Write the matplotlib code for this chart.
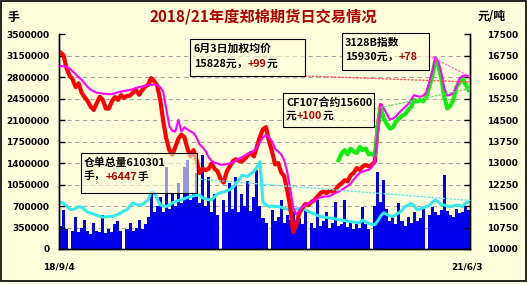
import numpy as np
import matplotlib.pyplot as plt
from matplotlib.patches import Rectangle, ConnectionPatch

nan = np.nan

title = '2018/21年度郑棉期货日交易情况'
start_label = '18/9/4'
end_label = '21/6/3'

# daily volume (hands), left axis
volume = [
    380000, 640000, 330000, 0, 300000, 520000, 280000, 350000, 470000, 300000,
    250000, 420000, 300000, 280000, 550000, 260000, 330000, 280000, 400000, 450000,
    300000, 0, 320000, 420000, 300000, 350000, 480000, 330000, 400000, 520000,
    910000, 600000, 700000, 850000, 600000, 1330000, 650000, 910000, 700000, 1070000,
    750000, 1330000, 1450000, 800000, 900000, 1240000, 750000, 1530000, 700000, 1170000,
    600000, 900000, 550000, 0, 800000, 600000, 1070000, 650000, 1170000, 600000,
    900000, 700000, 1100000, 620000, 850000, 1290000, 700000, 500000, 420000, 0,
    630000, 450000, 520000, 800000, 430000, 560000, 480000, 650000, 430000, 500000,
    400000, 630000, 0, 420000, 350000, 800000, 380000, 450000, 600000, 340000,
    420000, 760000, 380000, 400000, 800000, 360000, 450000, 320000, 400000, 350000,
    690000, 400000, 330000, 0, 700000, 1260000, 760000, 1120000, 650000, 450000,
    520000, 400000, 750000, 450000, 380000, 520000, 420000, 600000, 460000, 500000,
    650000, 0, 560000, 690000, 600000, 560000, 640000, 1200000, 620000, 560000,
    520000, 650000, 580000, 600000, 700000, 640000,
]

# open interest (hands), left axis
open_interest = [
    760000, 745000, 700000, 650000, 640000, 660000, 690000, 680000, 640000, 600000,
    585000, 570000, 550000, 530000, 520000, 525000, 530000, 530000, 545000, 560000,
    590000, 620000, 640000, 700000, 750000, 730000, 715000, 720000, 760000, 800000,
    930000, 915000, 820000, 720000, 700000, 690000, 720000, 750000, 770000, 790000,
    800000, 820000, 840000, 850000, 865000, 875000, 880000, 830000, 820000, 800000,
    800000, 850000, 900000, 915000, 930000, 950000, 965000, 1000000, 1060000, 1120000,
    1200000, 1190000, 1180000, 1230000, 1260000, 1330000, 1420000, 760000, 720000, 690000,
    700000, 690000, 690000, 680000, 660000, 650000, 640000, 635000, 650000, 660000,
    665000, 640000, 610000, 590000, 570000, 545000, 530000, 520000, 515000, 505000,
    500000, 490000, 480000, 470000, 465000, 455000, 445000, 440000, 430000, 425000,
    470000, 440000, 420000, 400000, 395000, 460000, 540000, 590000, 560000, 540000,
    530000, 560000, 590000, 630000, 690000, 710000, 745000, 700000, 640000, 650000,
    670000, 690000, 710000, 760000, 800000, 770000, 720000, 715000, 700000, 690000,
    700000, 715000, 710000, 690000, 740000, 770000,
]

# futures price (yuan/t), right axis
price_red = [
    16850, 16760, 16300, 16050, 15920, 15650, 15780, 15450, 15290, 15160,
    14960, 14850, 15090, 15310, 15200, 14900, 14900, 15150, 15300, 15200,
    15370, 15270, 15340, 15350, 15460, 15540, 15380, 15540, 15660, 15730,
    15960, 15860, 15700, 15200, 14450, 13850, 13450, 13280, 13570, 13850,
    13990, 13900, 13500, 13230, 13450, 13100, 12650, 12800, 12750, 12800,
    12980, 12800, 12700, 12430, 12320, 12700, 12880, 13060, 13130, 13080,
    13050, 13150, 13270, 13350, 13230, 13570, 13920, 14180, 14250, 13750,
    13400, 12950, 13000, 12680, 12540, 12060, 11480, 10600, 10850, 11250,
    11420, 11570, 11530, 11640, 11700, 11830, 11950, 12000, 11950, 12030,
    12000, 12070, 12210, 12290, 12400, 12360, 12570, 12650, 12820, 12760,
    12880, 12930, 12880, 12930, 13050, 14300, 15000,
] + [nan] * 29

price_green = [nan] * 92 + [
    13100, 13330, 13450, 13300, 13500, 13400, 13350, 13560, 13450, 13500,
    13300, 13330, 13250, 14300, 14900, 14550, 14350, 14200, 14250, 14450,
    14550, 14650, 14700, 14850, 14950, 15200, 15150, 15200, 15150, 15300,
    15650, 16050, 16550, 16400, 15950, 15300, 14900, 15000, 15200, 15650,
    15800, 15950, 15750, 15550,
]

# 3128B index (yuan/t), right axis
index_3128b = [
    16380, 16370, 16360, 16300, 16200, 16100, 15990, 15900, 15780, 15650,
    15560, 15500, 15450, 15440, 15420, 15410, 15400, 15400, 15430, 15470,
    15490, 15510, 15530, 15550, 15580, 15620, 15650, 15670, 15700, 15720,
    15730, 15730, 15720, 15640, 15480, 14900, 14300, 14120, 14100, 14500,
    14100, 14250, 14170, 14100, 14050, 13900, 13650, 13550, 13420, 13200,
    13080, 13010, 12980, 12940, 12940, 12960, 12990, 13030, 13080, 13150,
    13200, 13260, 13330, 13380, 13430, 13550, 13720, 13900, 13970, 13900,
    13750, 13500, 13400, 13300, 13100, 12700, 12100, 11450, 11200, 11330,
    11470, 11530, 11590, 11640, 11700, 11750, 11800, 11830, 11830, 11840,
    11900, 11950, 12000, 12060, 12130, 12200, 12280, 12420, 12550, 12650,
    12700, 12740, 12760, 12850, 13100, 14100, 15050, 14900, 14700, 14520,
    14550, 14620, 14750, 14850, 14950, 15050, 15200, 15370, 15330, 15310,
    15350, 15450, 15800, 16200, 16680, 16550, 16150, 15600, 15350, 15380,
    15450, 15650, 15950, 16030, 16060, 16020,
]

vol_ticks = list(range(0, 3500001, 350000))
price_ticks = list(range(10000, 17501, 750))

avg_price = 15828
cf107_price = 15600
receipt_mark = 790000

W, H = 527, 284
BG = '#FFFFDC'
CJK = ['Noto Sans CJK SC', 'DejaVu Sans']


def px(x, y):
    return x / W, 1 - y / H


fig = plt.figure(figsize=(W / 100, H / 100), dpi=100, facecolor=BG)
ax1 = fig.add_axes([59 / W, 1 - 249 / H, (470 - 59) / W, (249 - 34) / H])
ax1.set_facecolor(BG)

x = np.arange(len(volume))
ax1.bar(x, volume, width=1.0, color='#0000EE', linewidth=0, zorder=1)
ax1.plot(x, open_interest, color='#33E8EE', lw=2.2, zorder=2)
ax1.set_xlim(-0.5, len(x) - 0.5)
ax1.set_ylim(0, 3500000)
for v in vol_ticks[1:-1]:
    ax1.axhline(v, color='#A8A8A8', lw=0.8, ls=(0, (4, 3)), zorder=0.5)

ax2 = ax1.twinx()
ax2.plot(x, price_red, color='#FF0000', lw=3.0, zorder=2)
ax2.plot(x, price_green, color='#10EE10', lw=3.0, zorder=3)
ax2.plot(x, index_3128b, color='#FF00FF', lw=1.5, zorder=4)
ax2.set_ylim(10000, 17500)

ax1.set_xticks([])
ax1.set_yticks(vol_ticks)
ax1.set_yticklabels([str(v) for v in vol_ticks])
ax2.set_yticks(price_ticks)
ax2.set_yticklabels([str(v) for v in price_ticks])
ax1.tick_params(axis='y', direction='in', length=4, width=1, pad=7, labelsize=6.5)
ax2.tick_params(axis='y', direction='in', length=4, width=1, pad=12, labelsize=6.5)
for lbl in ax1.get_yticklabels() + ax2.get_yticklabels():
    lbl.set_fontweight('bold')
for a in (ax1, ax2):
    a.spines['top'].set_visible(False)
    for s in ('left', 'right', 'bottom'):
        a.spines[s].set_linewidth(1)

# header texts
fig.text(*px(263, 17), title, color='#B00000', fontsize=11, fontweight='bold',
         family=CJK, ha='center', va='center')
fig.text(*px(13, 17), '手', fontsize=8.5, fontweight='bold', family=CJK,
         ha='center', va='center')
fig.text(*px(492, 17), '元/吨', fontsize=8.5, fontweight='bold', family=CJK,
         ha='center', va='center')
fig.text(*px(59, 267), start_label, fontsize=6.5, fontweight='bold', ha='center', va='center')
fig.text(*px(467, 267), end_label, fontsize=6.5, fontweight='bold', ha='center', va='center')

# outer frame
fig.add_artist(Rectangle(px(1, 281), 525 / W, 280 / H, transform=fig.transFigure,
                         fill=False, edgecolor='black', lw=1.2, zorder=10))


def box(x0, y0, x1, y1):
    fig.add_artist(Rectangle(px(x0, y1), (x1 - x0) / W, (y1 - y0) / H,
                             transform=fig.transFigure, facecolor=(1, 1, 0.86, 0.6),
                             edgecolor='black', lw=0.8, zorder=5))


def rich_text(x0, y0, parts, size=7.8):
    r = fig.canvas.get_renderer()
    fx, fy = px(x0, y0)
    for s, c in parts:
        t = fig.text(fx, fy, s, color=c, fontsize=size, fontweight='bold',
                     family=CJK, ha='left', va='center', zorder=6)
        bb = t.get_window_extent(renderer=r)
        fx = bb.x1 / fig.bbox.width


def leader(xa, ya, yb, axis, color):
    cp = ConnectionPatch(xyA=px(xa, ya), coordsA=fig.transFigure,
                         xyB=(len(x) - 0.5, yb), coordsB=axis.transData,
                         color=color, lw=1.0, ls=':', zorder=4.5)
    fig.add_artist(cp)


leader(305, 76, avg_price, ax2, '#FF5050')
leader(429, 56, index_3128b[-1], ax2, '#FF70D0')
leader(374, 109, cf107_price, ax2, '#60E060')
leader(197, 179, receipt_mark, ax1, '#60E8F0')

DR = '#B00000'
box(190, 39, 305, 76)
rich_text(194, 49, [('6月3日加权均价', 'black')])
rich_text(194, 64, [('15828元，', 'black'), ('+99', DR), ('元', 'black')])

box(342, 33, 429, 70)
rich_text(345, 43, [('3128B指数', 'black')])
rich_text(345, 57, [('15930元，', 'black'), ('+78', DR)])

box(283, 93, 374, 127)
rich_text(286, 103, [('CF107合约15600', 'black')])
rich_text(286, 116, [('元', 'black'), ('+100', DR), ('元', 'black')])

box(81, 153, 197, 193)
rich_text(84, 163, [('仓单总量610301', 'black')])
rich_text(84, 177, [('手，', 'black'), ('+6447', DR), ('手', 'black')])

fig.savefig('out.png', dpi=100, facecolor=BG)
